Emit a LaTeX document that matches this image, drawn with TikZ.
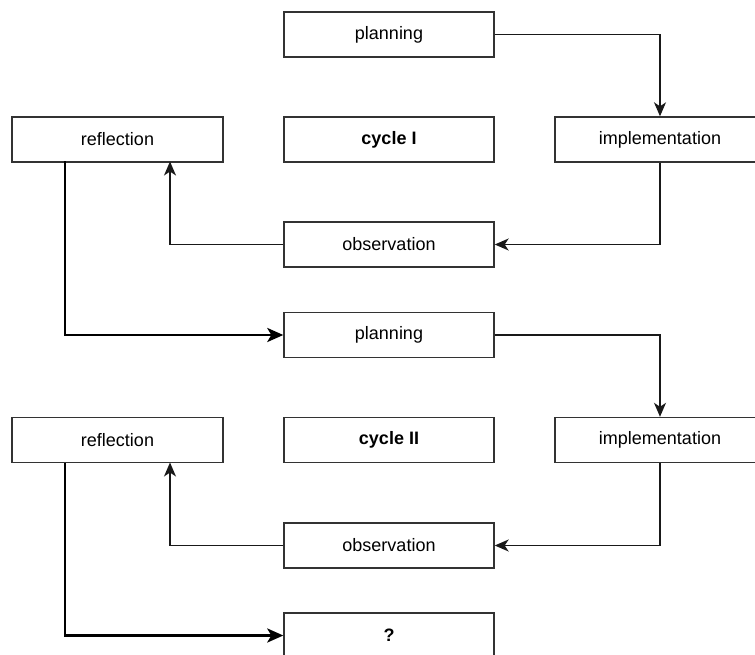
\documentclass[tikz,border=0pt]{standalone}
\usepackage{fontspec}
\setmainfont{Liberation Sans}
\usetikzlibrary{arrows.meta}
\begin{document}
\begin{tikzpicture}[x=1pt,y=-1pt,
  box/.style={draw=black!80,line width=1.4pt,minimum width=210pt,minimum height=45pt,inner sep=0pt,font=\fontsize{18}{20}\selectfont},
  thinarr/.style={draw=black!90,line width=1.4pt,-{Stealth[length=14pt,width=12pt,inset=4pt]}},
  thickarr/.style={draw=black,line width=2.8pt,-{Stealth[length=16pt,width=14pt,inset=4pt]}}]
\useasboundingbox (0,0) rectangle (755,655);
\node[box] (p1) at (389,34.5) {planning};
\node[box,minimum width=211pt] (r1) at (117.5,139.5) {reflection};
\node[box] (c1) at (389,139.5) {\textbf{cycle I}};
\node[box] (i1) at (660,139.5) {implementation};
\node[box] (o1) at (389,244.5) {observation};
\node[box] (p2) at (389,335) {planning};
\node[box,minimum width=211pt] (r2) at (117.5,440) {reflection};
\node[box] (c2) at (389,440) {\textbf{cycle II}};
\node[box] (i2) at (660,440) {implementation};
\node[box] (o2) at (389,545.5) {observation};
\node[box] (q) at (389,635.5) {\textbf{?}};
\coordinate (a1) at (170,161.5);
\coordinate (b1) at (65,161.5);
\coordinate (a2) at (170,462.5);
\coordinate (b2) at (65,462.5);
\draw[thinarr] (p1.east) -| (i1.north);
\draw[thinarr] (i1.south) |- (o1.east);
\draw[thinarr] (o1.west) -| (a1);
\draw[thickarr] (b1) |- (p2.west);
\draw[thinarr] (p2.east) -| (i2.north);
\draw[thinarr] (i2.south) |- (o2.east);
\draw[thinarr] (o2.west) -| (a2);
\draw[thickarr] (b2) |- (q.west);
\end{tikzpicture}
\end{document}
